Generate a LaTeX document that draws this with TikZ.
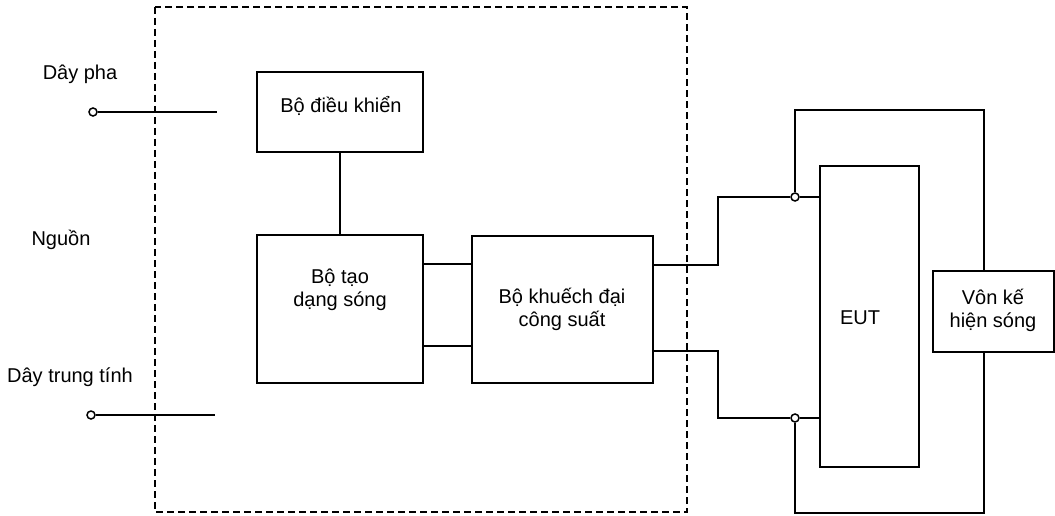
\documentclass[tikz,border=0pt]{standalone}
\usepackage{fontspec}
\setmainfont{Liberation Sans}
\begin{document}
\begin{tikzpicture}[x=1pt,y=-1pt,
  wire/.style={line width=1.8pt},
  blockbox/.style={draw,line width=1.8pt,minimum width=#1,inner sep=0pt},
  lbl/.style={font=\fontsize{20}{23}\selectfont,align=center,inner sep=0pt},
  term/.style={circle,draw,line width=1.5pt,fill=white,minimum size=8pt,inner sep=0pt},
  frame/.style={line width=1.8pt,dash pattern=on 7pt off 4pt}]
\useasboundingbox (0,0) rectangle (1055,516);
% dashed enclosure
\draw[frame] (155,7) rectangle (687,512);
% blocks
\node[blockbox=166pt,minimum height=80pt] (dk) at (340,112) {};
\node[blockbox=166pt,minimum height=148pt] (tao) at (340,309) {};
\node[blockbox=181pt,minimum height=147pt] (kd) at (562.5,309.5) {};
\node[blockbox=99pt,minimum height=301pt] (eut) at (869.5,316.5) {};
\node[blockbox=121pt,minimum height=81pt] (vk) at (993.5,311.5) {};
% labels
\node[lbl] (tdk) at (341,106) {Bộ điều khiển};
\node[lbl] (ttao) at (340,290) {Bộ tạo\\dạng sóng};
\node[lbl] (tkd) at (562,309) {Bộ khuếch đại\\công suất};
\node[lbl] (teut) at (860,318) {EUT};
\node[lbl] (tvk) at (993,310) {Vôn kế\\hiện sóng};
\node[lbl] (tpha) at (80,74) {Dây pha};
\node[lbl] (tng) at (61,240) {Nguồn};
\node[lbl] (ttt) at (70,377) {Dây trung tính};
% source terminals
\node[term] (p1) at (93,112) {};
\node[term] (p2) at (91,415) {};
\coordinate (e1) at (217,112);
\coordinate (e2) at (215,415);
\draw[wire] (p1.east) -- (e1);
\draw[wire] (p2.east) -- (e2);
% internal links
\draw[wire] (dk.south) -- (tao.north);
\draw[wire] (tao.east |- 0,264) -- (kd.west |- 0,264);
\draw[wire] (tao.east |- 0,346) -- (kd.west |- 0,346);
% output terminals
\node[term] (c1) at (795,197) {};
\node[term] (c2) at (795,418) {};
\draw[wire] (kd.east |- 0,265) -| (718,197) -- (c1.west);
\draw[wire] (kd.east |- 0,351) -| (718,418) -- (c2.west);
\draw[wire] (c1.east) -- (eut.west |- c1);
\draw[wire] (c2.east) -- (eut.west |- c2);
% voltmeter loop
\draw[wire] (c1.north) |- (984,110) -- (984,0 |- vk.north);
\draw[wire] (984,0 |- vk.south) |- (795,513) -- (c2.south);
\end{tikzpicture}
\end{document}
